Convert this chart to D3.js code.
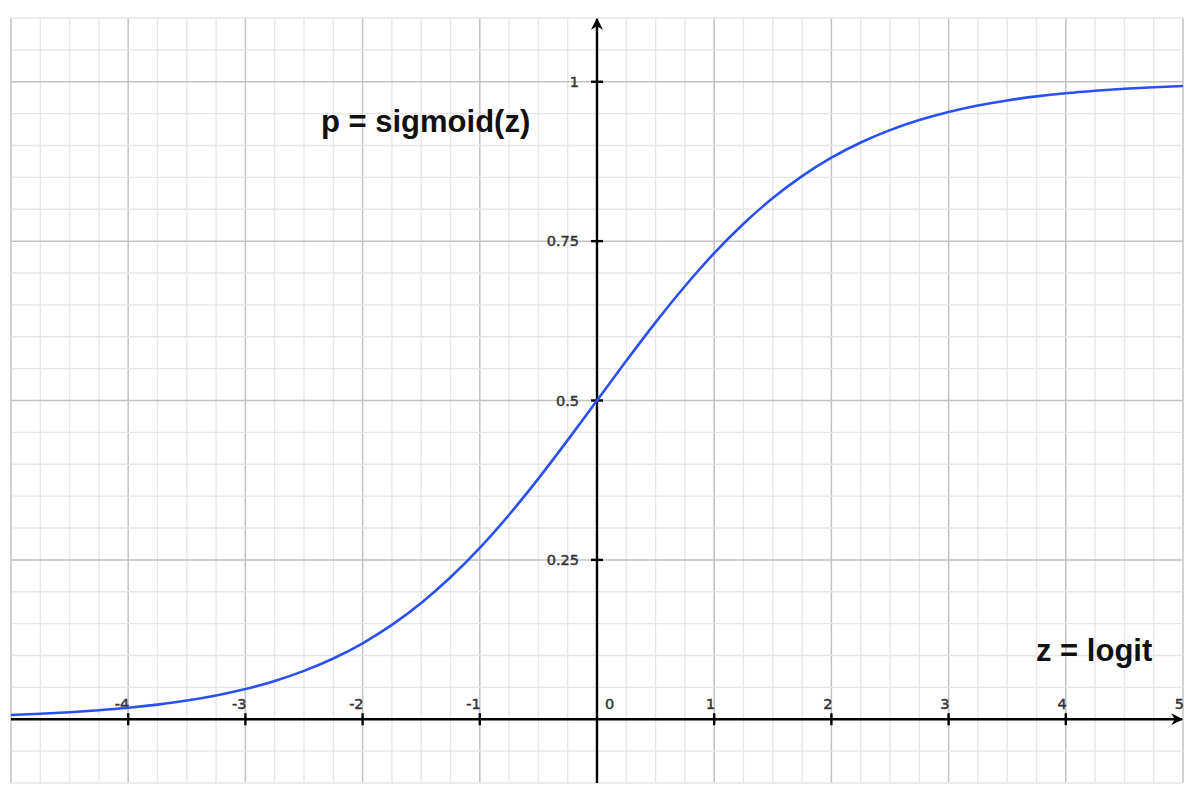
<!DOCTYPE html>
<html>
<head>
<meta charset="utf-8">
<script src="https://cdn.jsdelivr.net/npm/d3@7/dist/d3.min.js"></script>
<style>
  html, body { margin: 0; padding: 0; background: #fff; }
  svg { display: block; }
  text { font-family: "Liberation Sans", Arial, Helvetica, sans-serif; }
  text.tick { font-family: "DejaVu Sans", "Liberation Sans", sans-serif; }
</style>
</head>
<body>
<svg id="chart" width="1200" height="802"></svg>
<script>
// ---- data ----
const zValues = [-5, -4.75, -4.5, -4.25, -4, -3.75, -3.5, -3.25, -3, -2.75, -2.5, -2.25, -2, -1.75, -1.5, -1.25, -1, -0.75, -0.5, -0.25,
  0, 0.25, 0.5, 0.75, 1, 1.25, 1.5, 1.75, 2, 2.25, 2.5, 2.75, 3, 3.25, 3.5, 3.75, 4, 4.25, 4.5, 4.75, 5];
const pValues = [0.0067, 0.0086, 0.0110, 0.0141, 0.0180, 0.0230, 0.0293, 0.0373, 0.0474, 0.0601, 0.0759, 0.0953, 0.1192, 0.1480, 0.1824, 0.2227, 0.2689, 0.3208, 0.3775, 0.4378,
  0.5, 0.5622, 0.6225, 0.6792, 0.7311, 0.7773, 0.8176, 0.8520, 0.8808, 0.9047, 0.9241, 0.9399, 0.9526, 0.9627, 0.9707, 0.9770, 0.9820, 0.9859, 0.9890, 0.9914, 0.9933];
const xTickLabels = [-4, -3, -2, -1, 0, 1, 2, 3, 4, 5];
const yTickLabels = [0.25, 0.5, 0.75, 1];
const titleP = "p = sigmoid(z)";
const titleZ = "z = logit";

// ---- scales ----
const x = d3.scaleLinear().domain([-5, 5]).range([11, 1183]);
const y = d3.scaleLinear().domain([-0.1, 1.1]).range([783, 18]);

const svg = d3.select("#chart");

// ---- grid ----
const grid = svg.append("g");
const xMinor = d3.range(-5, 5.001, 0.25).map(v => +v.toFixed(2));
const yMinor = d3.range(-0.1, 1.1001, 0.05).map(v => +v.toFixed(2));
const isMajorY = d => Math.abs(d * 4 - Math.round(d * 4)) < 1e-6;

grid.selectAll("line.vx").data(xMinor).join("line")
  .attr("x1", d => x(d)).attr("x2", d => x(d))
  .attr("y1", y(1.1)).attr("y2", y(-0.1))
  .attr("stroke", d => Number.isInteger(d) ? "#c2c2c2" : "#e6e6e6")
  .attr("stroke-width", d => Number.isInteger(d) ? 1.5 : 1.3);

grid.selectAll("line.hy").data(yMinor).join("line")
  .attr("x1", x(-5)).attr("x2", x(5))
  .attr("y1", d => y(d)).attr("y2", d => y(d))
  .attr("stroke", d => isMajorY(d) ? "#c2c2c2" : "#e6e6e6")
  .attr("stroke-width", d => isMajorY(d) ? 1.5 : 1.3);

// ---- axes ----
const defs = svg.append("defs");
defs.append("marker").attr("id", "arrow")
  .attr("viewBox", "0 0 10 10").attr("refX", 9).attr("refY", 5)
  .attr("markerWidth", 5).attr("markerHeight", 5).attr("orient", "auto")
  .attr("markerUnits", "strokeWidth")
  .append("path").attr("d", "M0,0 L10,5 L0,10 L3,5 Z").attr("fill", "#000");

const axes = svg.append("g");
axes.append("line")
  .attr("x1", x(-5)).attr("x2", x(5) - 1)
  .attr("y1", y(0)).attr("y2", y(0))
  .attr("stroke", "#000").attr("stroke-width", 2.4)
  .attr("marker-end", "url(#arrow)");
axes.append("line")
  .attr("x1", x(0)).attr("x2", x(0))
  .attr("y1", y(-0.1)).attr("y2", y(1.1) + 1)
  .attr("stroke", "#000").attr("stroke-width", 2.4)
  .attr("marker-end", "url(#arrow)");

// x ticks (cross marks) and labels
const xt = xTickLabels.filter(d => d !== 0 && d !== 5);
axes.selectAll("line.xt").data(xt).join("line")
  .attr("x1", d => x(d)).attr("x2", d => x(d))
  .attr("y1", y(0) - 6).attr("y2", y(0) + 6)
  .attr("stroke", "#000").attr("stroke-width", 2.4);
axes.selectAll("text.xl").data(xTickLabels).join("text")
  .attr("class", "tick")
  .attr("x", d => d === 0 ? x(d) + 8 : x(d) + 1)
  .attr("y", y(0) - 10)
  .attr("text-anchor", d => d === 0 ? "start" : "end")
  .attr("font-size", 14.5)
  .attr("fill", "#333")
  .attr("stroke", "#333").attr("stroke-width", 0.45)
  .text(d => d);

// y ticks and labels
axes.selectAll("line.yt").data(yTickLabels).join("line")
  .attr("x1", x(0) - 6).attr("x2", x(0) + 6)
  .attr("y1", d => y(d)).attr("y2", d => y(d))
  .attr("stroke", "#000").attr("stroke-width", 2.4);
axes.selectAll("text.yl").data(yTickLabels).join("text")
  .attr("class", "tick")
  .attr("x", x(0) - 18)
  .attr("y", d => y(d))
  .attr("dy", "0.36em")
  .attr("text-anchor", "end")
  .attr("font-size", 14.5)
  .attr("fill", "#333")
  .attr("stroke", "#333").attr("stroke-width", 0.45)
  .text(d => d);

// ---- curve ----
const pts = zValues.map((z, i) => [z, pValues[i]]);
const line = d3.line().x(d => x(d[0])).y(d => y(d[1])).curve(d3.curveMonotoneX);
svg.append("path").datum(pts)
  .attr("d", line)
  .attr("fill", "none")
  .attr("stroke", "#2c4ff2")
  .attr("stroke-width", 2.6);

// ---- titles ----
svg.append("text").attr("x", 321).attr("y", 132)
  .attr("font-size", 31).attr("font-weight", "bold").attr("fill", "#111")
  .text(titleP);
svg.append("text").attr("x", 1036).attr("y", 661)
  .attr("font-size", 31).attr("font-weight", "bold").attr("fill", "#111")
  .text(titleZ);
</script>
</body>
</html>
